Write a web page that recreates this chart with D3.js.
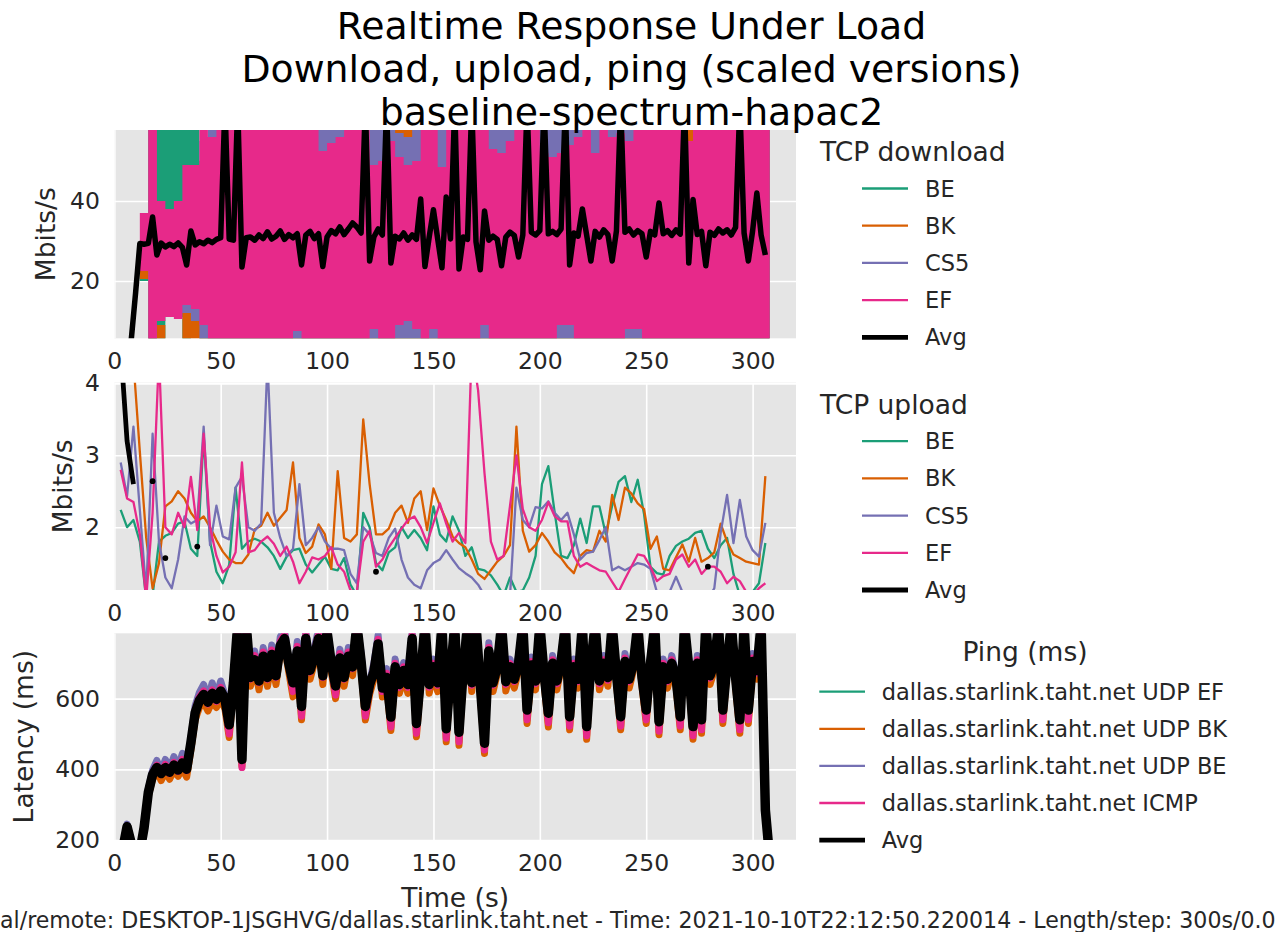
<!DOCTYPE html>
<html>
<head>
<meta charset="utf-8">
<title>Realtime Response Under Load</title>
<script src="https://cdn.jsdelivr.net/npm/d3@7"></script>
<style>
	body { margin: 0; background: #fff; }
	svg { display: block; font-family: 'DejaVu Sans', sans-serif; }
</style>
</head>
<body>
<svg id="chart"></svg>
<script>
/*
	Data
	* Times are implicit: value i sits at i * step seconds
	* null means the series has no point there
*/
const titleLines = ['Realtime Response Under Load', 'Download, upload, ping (scaled versions)', 'baseline-spectrum-hapac2']
const footerText = 'Local/remote: DESKTOP-1JSGHVG/dallas.starlink.taht.net - Time: 2021-10-10T22:12:50.220014 - Length/step: 300s/0.05s'

const xTicks = [0, 50, 100, 150, 200, 250, 300]
const downTicks = [20, 40]
const upTicks = [2, 3, 4]
const pingTicks = [200, 400, 600]

const flowNames = ['BE', 'BK', 'CS5', 'EF']
const pingNames = ['dallas.starlink.taht.net UDP EF', 'dallas.starlink.taht.net UDP BK', 'dallas.starlink.taht.net UDP BE', 'dallas.starlink.taht.net ICMP']

//TCP download flows swing so fast they read as solid bands: kept as low/high envelopes, one per 4 s
const bandStep = 4
const downBELo = [
	0, 0, 0, 20, 0, 3, 12, 11, 0, 8,
	0, 0, 0, 0, 0, 0, 0, 0, 0, 0,
	0, 0, 0, 0, 0, 0, 0, 0, 0, 0,
	0, 0, 0, 0, 0, 0, 0, 0, 0, 0,
	0, 0, 0, 0, 0, 0, 0, 0, 0, 0,
	0, 0, 0, 0, 0, 0, 0, 0, 0, 0,
	0, 0, 0, 0, 0, 0, 0, 0, 0, 0,
	0, 0, 0, 0, 0, 0, 0, 0]
const downBEHi = [
	0, 0, 0, 23, 62, 62, 62, 62, 62, 62,
	50, 50, 62, 62, 62, 62, 62, 62, 62, 62,
	62, 62, 62, 62, 62, 62, 62, 62, 62, 62,
	62, 62, 62, 62, 62, 62, 62, 62, 62, 62,
	62, 62, 62, 62, 62, 62, 62, 62, 62, 62,
	62, 62, 62, 62, 62, 62, 62, 62, 62, 62,
	62, 62, 62, 62, 62, 62, 62, 62, 62, 62,
	62, 62, 62, 62, 62, 62, 62, 0]
const downBKLo = [
	0, 0, 0, 20.5, 0, 3, 13, 12, 0, 0,
	0, 0, 0, 0, 0, 0, 0, 0, 0, 0,
	0, 0, 0, 0, 0, 0, 0, 0, 0, 0,
	0, 0, 0, 0, 0, 0, 0, 0, 0, 0,
	0, 0, 0, 0, 0, 0, 0, 0, 0, 0,
	0, 0, 0, 0, 0, 0, 0, 0, 0, 0,
	0, 0, 0, 0, 0, 0, 0, 0, 0, 0,
	0, 0, 0, 0, 0, 0, 0, 0]
const downBKHi = [
	0, 0, 0, 24, 62, 9, 30, 30, 20, 25,
	50, 50, 62, 62, 62, 62, 62, 62, 62, 62,
	62, 62, 62, 62, 62, 62, 62, 62, 62, 62,
	62, 62, 62, 62, 62, 62, 62, 62, 62, 62,
	62, 62, 62, 62, 62, 62, 62, 62, 62, 62,
	62, 62, 62, 62, 62, 62, 62, 62, 62, 62,
	62, 62, 62, 62, 62, 62, 62, 62, 62, 62,
	62, 62, 62, 62, 62, 62, 62, 0]
const downCS5Lo = [
	0, 0, 0, 23, 0, 12, 14, 12, 12, 10,
	0, 0, 0, 0, 0, 0, 0, 0, 0, 0,
	0, 0, 0, 0, 0, 0, 0, 0, 0, 0,
	0, 0, 0, 0, 0, 0, 0, 0, 0, 0,
	0, 0, 0, 0, 0, 0, 0, 0, 0, 0,
	0, 0, 0, 0, 0, 0, 0, 0, 0, 0,
	0, 0, 0, 0, 0, 0, 0, 0, 0, 0,
	0, 0, 0, 0, 0, 0, 0, 0]
const downCS5Hi = [
	0, 0, 0, 29, 62, 36, 33, 30, 40, 45,
	55, 62, 62, 62, 62, 62, 62, 62, 62, 62,
	62, 62, 62, 62, 62, 62, 62, 62, 62, 62,
	62, 62, 62, 57, 56, 62, 62, 62, 62, 62,
	62, 62, 62, 62, 62, 62, 62, 62, 62, 62,
	62, 62, 62, 62, 62, 62, 62, 62, 62, 62,
	62, 62, 62, 62, 62, 62, 62, 50, 62, 62,
	62, 62, 62, 62, 62, 62, 62, 0]
const downEFLo = [
	0, 0, 0, 22.5, 0, 10, 11, 10.5, 14, 13,
	9, 0, 0, 0, 0, 0, 0, 0, 0, 0,
	0, 7.5, 0, 0, 0, 0, 0, 0, 0, 0,
	8, 0, 0, 9, 10, 8, 0, 8, 0, 0,
	0, 0, 0, 9, 0, 0, 0, 0, 0, 0,
	0, 0, 9, 9, 0, 0, 0, 0, 0, 0,
	8, 8, 0, 0, 0, 0, 0, 0, 0, 0,
	0, 0, 0, 0, 0, 0, 0, 0]
const downEFHi = [
	0, 0, 0, 37, 62, 40, 38, 40, 49, 49,
	62, 56, 62, 62, 62, 62, 62, 62, 62, 62,
	62, 62, 62, 62, 52.5, 54.5, 56, 62, 62, 62,
	49, 50, 55, 51, 49, 50, 62, 62, 48.5, 62,
	62, 62, 62, 62, 53, 52, 55, 62, 62, 62,
	52, 51, 52, 54, 56, 62, 52, 62, 56, 57,
	55, 62, 62, 62, 62, 62, 62, 55, 62, 62,
	62, 62, 62, 62, 62, 62, 62, 0]

//TCP download average, one per 2 s
const downAvgStep = 2
const downAvg = [
	null, null, null, 2, 5.5, 17, 29.4, 29.2, 29.4, 36,
	26.5, 29.5, 28.5, 29.2, 28.6, 29.5, 28.4, 24, 32.5, 29,
	29.8, 29.3, 30.2, 29.6, 30.4, 30.8, 64, 30.5, 30.2, 64,
	23.5, 30.8, 31, 30.2, 31.5, 30.6, 32.3, 30.5, 31.2, 32.5,
	30.4, 31.6, 30.8, 31.8, 24, 31.5, 32.4, 30.6, 31.8, 23.6,
	31, 32.6, 31.8, 33.5, 31.6, 33, 34.5, 33.5, 32, 64,
	25, 31, 33, 31.5, 64, 24.5, 31.2, 30.5, 32, 30.2,
	31.5, 30.4, 40.5, 23.6, 31, 37.8, 30.5, 23.3, 41, 30.5,
	64, 23, 31, 30.4, 64, 29.8, 22.8, 37.5, 30.2, 31.2,
	30.4, 23.8, 31, 32.2, 31.4, 26, 31.5, 64, 32.2, 31.5,
	32.6, 64, 31.8, 32.4, 31.6, 33, 64, 24, 32, 31.2,
	38, 31.5, 25, 32.4, 31, 32.8, 31.6, 25, 32.5, 64,
	32.2, 33, 31.5, 32.6, 31.8, 26, 32.4, 31.5, 39.5, 31.8,
	32.6, 31.4, 32.8, 31.7, 64, 24.5, 40.4, 31.6, 32.4, 23.8,
	32.2, 31.4, 33, 32, 32.8, 31.5, 33.4, 64, 32, 25,
	32.5, 42, 31.5, 26.5]

//TCP upload, one per 3 s
const upStep = 3
const upBE = [
	null, 2.24, 2.0, 2.1, 1.8, 1.0, 1.05, 1.8, 1.88, 1.92,
	2.05, 2.08, 1.7, 1.6, 3.27, 1.8, 1.38, 1.22, 1.48, 2.55,
	1.7, 1.8, 1.84, 1.8, 1.72, 1.6, 1.42, 1.59, 1.68, 1.7,
	1.48, 1.37, 1.48, 1.59, 1.42, 1.40, 1.57, 1.2, 1.05, 2.2,
	2.0, 1.5, 1.4, 1.65, 1.72, 2.0, 1.85, 1.96, 1.85, 1.68,
	2.29, 1.9, 1.8, 2.15, 1.95, 1.6, 1.72, 1.42, 1.40, 1.33,
	1.2, 1.05, 1.3, 1.1, 1.12, 1.3, 1.6, 2.6, 2.85, 2.2,
	1.6, 1.57, 1.75, 2.12, 1.78, 2.29, 2.29, 1.9, 2.3, 2.63,
	2.71, 2.35, 2.66, 2.18, 1.45, 1.36, 1.34, 1.6, 1.74, 1.8,
	1.84, 1.92, 1.95, 1.7, 1.57, 1.75, 1.85, 1.35, 1.05, 1.05,
	1.1, 1.22, 1.78]
const upBK = [
	null, 4.3, 4.4, 4.3, 3.05, 1.85, 1.15, 1.5, 2.29, 2.36,
	2.5, 2.4, 2.2, 2.08, 2.15, 2.0, 1.82, 1.66, 1.55, 1.5,
	1.5, 1.62, 1.97, 2.02, 2.2, 2.02, 2.13, 2.24, 2.9, 1.85,
	1.64, 1.73, 2.04, 1.9, 1.42, 2.78, 1.85, 1.8, 1.9, 3.5,
	2.6, 1.9, 1.9, 1.98, 2.2, 2.3, 2.06, 2.4, 2.5, 1.96,
	2.54, 2.3, 2.1, 1.87, 1.78, 1.72, 1.55, 1.35, 1.28, 1.4,
	1.52, 1.6, 1.75, 3.4, 1.95, 1.66, 1.75, 1.92, 1.8, 1.65,
	1.57, 1.45, 1.36, 1.6, 1.68, 1.66, 1.95, 1.8, 2.45, 2.1,
	2.55, 2.47, 2.33, 2.25, 1.7, 1.87, 1.42, 1.40, 1.58, 1.76,
	1.52, 1.85, 1.52, 1.57, 1.65, 2.05, 1.8, 1.62, 1.57, 1.52,
	1.5, 1.48, 2.71]
const upCS5 = [
	null, 2.9, 2.43, 3.4, 2.24, 1.1, 3.3, 1.8, 1.3, 1.15,
	1.55, 2.15, 2.05, 2.1, 3.4, 1.75, 2.3, 1.87, 1.83, 2.55,
	2.7, 2.0, 1.95, 2.05, 4.3, 2.2, 1.85, 1.6, 1.7, 2.6,
	1.75, 1.85, 2.0, 1.8, 1.7, 1.7, 1.68, 1.35, 1.22, 2.0,
	1.9, 1.64, 1.6, 1.85, 1.98, 1.55, 1.3, 1.2, 1.15, 1.4,
	1.5, 1.55, 1.68, 1.55, 1.43, 1.36, 1.3, 1.2, 1.05, 1.0,
	1.0, 1.0, 1.05, 2.55, 2.1, 2.0, 2.28, 2.26, 2.36, 2.2,
	2.1, 2.2, 1.9, 1.55, 1.64, 1.66, 1.82, 2.0, 1.4, 1.45,
	1.4, 1.45, 1.5, 1.48, 1.42, 1.1, 1.05, 1.1, 1.31, 1.1,
	1.0, 1.0, 1.05, 1.0, 1.15, 1.92, 2.45, 1.78, 2.38, 1.87,
	1.68, 1.59, 2.06]
const upEF = [
	null, 2.8, 2.4, 2.35, 1.9, 1.0, 2.2, 4.4, 2.0, 1.9,
	2.2, 2.0, 2.7, 1.96, 3.3, 2.0, 1.6, 1.37, 1.45, 1.65,
	2.9, 1.65, 1.68, 1.8, 1.87, 1.77, 1.6, 1.73, 1.52, 1.22,
	1.38, 1.58, 1.55, 1.6, 1.72, 1.48, 1.38, 1.12, 1.1, 1.8,
	1.95, 1.45, 1.55, 1.72, 1.85, 1.98, 2.1, 2.15, 2.0, 1.78,
	2.06, 2.33, 2.05, 1.8, 1.92, 1.78, 4.5, 3.9, 2.75, 1.8,
	1.55, 1.6, 2.3, 3.0, 2.25, 2.0, 1.95, 2.1, 2.35, 2.15,
	2.08, 2.08, 1.6, 1.45, 1.5, 1.45, 1.4, 1.38, 1.24, 1.1,
	1.28, 1.45, 1.62, 1.6, 1.45, 1.25, 1.32, 1.35, 1.55, 1.62,
	1.45, 1.55, 1.35, 1.45, 1.45, 1.38, 1.22, 1.31, 1.25, 1.1,
	1.05, 1.15, 1.22]
//the upload average only has a few scattered points
const upAvgTimes = [3, 6, 9, 18, 24, 39, 123, 279]
const upAvgValues = [4.5, 3.2, 2.6, 2.64, 1.57, 1.73, 1.38, 1.45]

//Ping, probes and average all one per 2 s
const pingStep = 2
const pingEF = [
	null, null, 172, 235, 188, 150, 164, 234, 333, 384,
	404, 386, 404, 390, 410, 396, 416, 398, 472, 558,
	593, 610, 588, 613, 596, 620, 598, 524, 643, 810,
	426, 810, 658, 708, 648, 718, 658, 723, 663, 748,
	768, 698, 643, 733, 576, 768, 678, 718, 768, 663,
	788, 698, 634, 713, 658, 718, 688, 810, 703, 576,
	638, 673, 753, 628, 658, 546, 688, 638, 678, 638,
	768, 528, 663, 810, 638, 688, 643, 810, 513, 668,
	810, 503, 678, 810, 643, 810, 638, 472, 733, 643,
	688, 810, 646, 688, 653, 698, 810, 566, 693, 648,
	810, 668, 557, 698, 648, 703, 810, 547, 688, 653,
	810, 519, 698, 810, 648, 698, 658, 810, 668, 547,
	703, 653, 698, 810, 658, 566, 698, 810, 533, 688,
	653, 698, 658, 547, 810, 688, 519, 698, 538, 810,
	663, 698, 810, 566, 698, 810, 658, 538, 810, 566,
	703, 678, 810, 285, 150]
const pingBK = [
	null, null, 170, 228, 182, 150, 160, 228, 325, 372,
	395, 368, 392, 372, 398, 380, 402, 378, 455, 540,
	575, 590, 565, 592, 575, 600, 570, 490, 622, 790,
	410, 790, 635, 690, 625, 700, 635, 705, 640, 730,
	750, 675, 605, 715, 540, 750, 655, 700, 750, 640,
	770, 675, 600, 695, 635, 700, 665, 790, 685, 540,
	612, 655, 735, 605, 640, 510, 670, 615, 660, 615,
	750, 492, 645, 790, 615, 670, 620, 790, 478, 650,
	790, 468, 660, 790, 620, 790, 615, 445, 715, 620,
	670, 790, 622, 670, 630, 680, 790, 530, 675, 625,
	790, 645, 520, 680, 625, 685, 790, 512, 670, 630,
	790, 485, 680, 790, 625, 680, 635, 790, 645, 512,
	685, 630, 680, 790, 635, 530, 680, 790, 498, 670,
	630, 680, 635, 512, 790, 670, 485, 680, 502, 790,
	640, 680, 790, 530, 680, 790, 635, 502, 790, 530,
	685, 655, 790, 280, 150]
const pingBE = [
	null, null, 180, 245, 195, 150, 168, 240, 345, 398,
	425, 395, 428, 400, 436, 405, 445, 408, 488, 580,
	618, 640, 598, 645, 606, 650, 610, 540, 668, 810,
	440, 810, 668, 735, 658, 745, 668, 752, 672, 775,
	795, 708, 652, 762, 590, 795, 688, 745, 795, 672,
	810, 708, 645, 740, 668, 745, 698, 810, 730, 590,
	650, 700, 780, 638, 685, 560, 712, 648, 702, 648,
	790, 542, 688, 810, 648, 712, 652, 810, 528, 692,
	810, 518, 702, 810, 652, 810, 648, 488, 758, 652,
	712, 810, 655, 712, 662, 722, 810, 580, 718, 658,
	810, 680, 570, 722, 658, 728, 810, 560, 712, 662,
	810, 535, 722, 810, 658, 722, 668, 810, 680, 560,
	728, 662, 722, 810, 668, 580, 722, 810, 548, 712,
	662, 722, 668, 560, 810, 712, 535, 722, 552, 810,
	672, 722, 810, 580, 722, 810, 668, 552, 810, 580,
	728, 690, 810, 300, 150]
const pingICMP = [
	null, null, 178, 240, 192, 150, 166, 236, 338, 390,
	412, 385, 414, 388, 420, 394, 428, 396, 470, 568,
	605, 622, 585, 625, 592, 632, 590, 500, 655, 810,
	405, 810, 655, 722, 645, 732, 655, 738, 660, 762,
	782, 695, 620, 748, 550, 782, 675, 732, 782, 660,
	800, 695, 610, 728, 655, 732, 685, 810, 718, 550,
	630, 688, 768, 620, 672, 520, 700, 632, 690, 632,
	780, 502, 675, 810, 632, 700, 638, 810, 488, 680,
	810, 478, 690, 810, 638, 810, 632, 455, 745, 638,
	700, 810, 640, 700, 648, 710, 810, 540, 705, 642,
	810, 662, 532, 710, 642, 715, 810, 522, 700, 648,
	810, 495, 710, 810, 642, 710, 652, 810, 662, 522,
	715, 648, 710, 810, 652, 540, 710, 810, 508, 700,
	648, 710, 652, 522, 810, 700, 495, 710, 512, 810,
	658, 710, 810, 540, 710, 810, 652, 512, 810, 540,
	715, 672, 810, 290, 150]
const pingAvg = [
	null, null, 175, 238, 190, 150, 165, 235, 335, 385,
	405, 388, 405, 392, 412, 398, 418, 400, 475, 560,
	595, 612, 590, 615, 598, 622, 600, 526, 645, 810,
	428, 810, 660, 710, 650, 720, 660, 725, 665, 750,
	770, 700, 645, 735, 578, 770, 680, 720, 770, 665,
	790, 700, 636, 715, 660, 720, 690, 810, 705, 578,
	640, 675, 755, 630, 660, 548, 690, 640, 680, 640,
	770, 530, 665, 810, 640, 690, 645, 810, 515, 670,
	810, 505, 680, 810, 645, 810, 640, 474, 735, 645,
	690, 810, 648, 690, 655, 700, 810, 568, 695, 650,
	810, 670, 559, 700, 650, 705, 810, 549, 690, 655,
	810, 521, 700, 810, 650, 700, 660, 810, 670, 549,
	705, 655, 700, 810, 660, 568, 700, 810, 535, 690,
	655, 700, 660, 549, 810, 690, 521, 700, 540, 810,
	665, 700, 810, 568, 700, 810, 660, 540, 810, 568,
	705, 680, 810, 285, 150]


/*
	Drawing constants
*/
const [width, height] = [1275, 932]
const [plotLeft, plotRight] = [114.3, 796]
const xMax = 320.4
const flowColors = ['#1b9e77', '#d95f02', '#7570b3', '#e7298a']
const bgColor = '#e5e5e5'
const textColor = '#262626'
const thinLine = 2.3
const avgLine = 4.8

//labelX is where the baseline of the rotated y label sits
const panels = {
	down: {top: 130, bottom: 338.3, domain: [5.67, 57.75], ticks: downTicks, label: 'Mbits/s', labelX: 55},
	up: {top: 382.7, bottom: 590, domain: [1.126, 4.01], ticks: upTicks, label: 'Mbits/s', labelX: 71.5},
	ping: {top: 633.3, bottom: 840, domain: [200, 785], ticks: pingTicks, label: 'Latency (ms)', labelX: 32.5}
}

const svg = d3.select('#chart').attr('width', width).attr('height', height)
const defs = svg.append('defs')
const x = d3.scaleLinear().domain([0, xMax]).range([plotLeft, plotRight])

function seriesLine(y, step) {
	return d3.line().defined(d => d !== null).x((d, i) => x(i * step)).y(d => y(d))
}

/*
	Panel setup
	* grey background, white grid, tick labels, y label
	* returns the y scale and a clipped group to draw series into
*/
function setupPanel(key) {
	const p = panels[key]
	const y = d3.scaleLinear().domain(p.domain).range([p.bottom, p.top])
	const plotHeight = p.bottom - p.top
	const plotWidth = plotRight - plotLeft

	defs.append('clipPath').attr('id', 'clip-' + key)
		.append('rect').attr('x', plotLeft).attr('y', p.top).attr('width', plotWidth).attr('height', plotHeight)
	svg.append('rect').attr('x', plotLeft).attr('y', p.top).attr('width', plotWidth).attr('height', plotHeight).attr('fill', bgColor)

	const grid = svg.append('g').attr('clip-path', `url(#clip-${key})`)
	grid.append('g').attr('transform', `translate(0,${p.bottom})`)
		.call(d3.axisBottom(x).tickValues(xTicks).tickSize(-plotHeight).tickFormat(''))
	grid.append('g').attr('transform', `translate(${plotLeft},0)`)
		.call(d3.axisLeft(y).tickValues(p.ticks).tickSize(-plotWidth).tickFormat(''))
	grid.selectAll('.domain').remove()
	grid.selectAll('line').attr('stroke', '#fff').attr('stroke-width', 1.6)

	const xAxis = svg.append('g').attr('transform', `translate(0,${p.bottom})`)
		.call(d3.axisBottom(x).tickValues(xTicks).tickSize(0).tickPadding(14.5).tickFormat(d3.format('d')))
	const yAxis = svg.append('g').attr('transform', `translate(${plotLeft},0)`)
		.call(d3.axisLeft(y).tickValues(p.ticks).tickSize(0).tickPadding(14.3).tickFormat(d3.format('d')))
	for (const axis of [xAxis, yAxis]) {
		axis.select('.domain').remove()
		axis.attr('font-family', null).attr('font-size', 23.5).attr('color', textColor)
	}

	svg.append('text')
		.attr('transform', `translate(${p.labelX},${(p.top + p.bottom) / 2}) rotate(-90)`)
		.attr('text-anchor', 'middle').attr('font-size', 26.5).attr('fill', textColor)
		.text(p.label)

	return {y, plot: svg.append('g').attr('clip-path', `url(#clip-${key})`)}
}

function drawLegend(o) {
	const g = svg.append('g').attr('fill', textColor)
	g.append('text').attr('x', o.titleX).attr('y', o.titleY).attr('text-anchor', o.titleAnchor)
		.attr('font-size', 26.5).text(o.title)
	o.entries.forEach((e, k) => {
		const cy = o.firstY + k * o.rowGap
		g.append('line').attr('x1', o.lineX1).attr('x2', o.lineX2).attr('y1', cy).attr('y2', cy)
			.attr('stroke', e.color).attr('stroke-width', e.width)
		g.append('text').attr('x', o.textX).attr('y', cy).attr('dominant-baseline', 'central')
			.attr('font-size', 22.5).text(e.name)
	})
}

const avgEntry = {name: 'Avg', color: '#000', width: avgLine}
const flowEntries = flowNames.map((name, k) => ({name, color: flowColors[k], width: thinLine})).concat([avgEntry])


/*
	TCP download
*/
const down = setupPanel('down')
const downBands = [[downBELo, downBEHi], [downBKLo, downBKHi], [downCS5Lo, downCS5Hi], [downEFLo, downEFHi]]
const band = d3.area().curve(d3.curveStepAfter)
	.x((d, i) => x(i * bandStep)).y0(d => down.y(d[0])).y1(d => down.y(d[1]))
downBands.forEach(([lo, hi], k) => {
	down.plot.append('path').datum(d3.zip(lo, hi)).attr('d', band).attr('fill', flowColors[k])
})
down.plot.append('path').datum(downAvg).attr('d', seriesLine(down.y, downAvgStep))
	.attr('fill', 'none').attr('stroke', '#000').attr('stroke-width', 5.5).attr('stroke-linejoin', 'round')
drawLegend({title: 'TCP download', titleX: 820, titleY: 161, titleAnchor: 'start',
	lineX1: 862, lineX2: 908, textX: 925, firstY: 188.5, rowGap: 37.2, entries: flowEntries})


/*
	TCP upload
*/
const up = setupPanel('up')
const upSeries = [upBE, upBK, upCS5, upEF]
upSeries.forEach((values, k) => {
	up.plot.append('path').datum(values).attr('d', seriesLine(up.y, upStep))
		.attr('fill', 'none').attr('stroke', flowColors[k]).attr('stroke-width', thinLine).attr('stroke-linejoin', 'round')
})
const upAvg = upBE.map(() => null)
upAvgTimes.forEach((t, k) => upAvg[t / upStep] = upAvgValues[k])
up.plot.append('path').datum(upAvg).attr('d', seriesLine(up.y, upStep))
	.attr('fill', 'none').attr('stroke', '#000').attr('stroke-width', avgLine).attr('stroke-linejoin', 'round')
//lone points have no segment, so give them a dot
const loneAvg = upAvgTimes.filter(t => upAvg[t / upStep - 1] == null && upAvg[t / upStep + 1] == null)
up.plot.selectAll('.avg-dot').data(loneAvg).enter().append('circle')
	.attr('cx', t => x(t)).attr('cy', t => up.y(upAvg[t / upStep])).attr('r', avgLine / 2 + 0.5).attr('fill', '#000')
drawLegend({title: 'TCP upload', titleX: 820, titleY: 413.7, titleAnchor: 'start',
	lineX1: 862, lineX2: 908, textX: 925, firstY: 441.2, rowGap: 37.2, entries: flowEntries})


/*
	Ping
	* the probe lines are drawn wide so they show as a fringe round the average
*/
const ping = setupPanel('ping')
const pingSeries = [pingEF, pingBK, pingBE, pingICMP]
pingSeries.forEach((values, k) => {
	ping.plot.append('path').datum(values).attr('d', seriesLine(ping.y, pingStep))
		.attr('fill', 'none').attr('stroke', flowColors[k]).attr('stroke-width', 7).attr('stroke-linejoin', 'round')
})
ping.plot.append('path').datum(pingAvg).attr('d', seriesLine(ping.y, pingStep))
	.attr('fill', 'none').attr('stroke', '#000').attr('stroke-width', 9.5).attr('stroke-linejoin', 'round')
drawLegend({title: 'Ping (ms)', titleX: 1025, titleY: 661, titleAnchor: 'middle',
	lineX1: 819.3, lineX2: 865, textX: 881.7, firstY: 691.7, rowGap: 37.1,
	entries: pingNames.map((name, k) => ({name, color: flowColors[k], width: thinLine})).concat([avgEntry])})


/*
	Titles and footer
*/
svg.selectAll('.title').data(titleLines).enter().append('text')
	.attr('x', 631.5).attr('y', (d, i) => 38.5 + i * 43).attr('text-anchor', 'middle')
	.attr('font-size', 37.8).attr('fill', '#000').text(d => d)

svg.append('text').attr('x', (plotLeft + plotRight) / 2).attr('y', 906.5).attr('text-anchor', 'middle')
	.attr('font-size', 26.5).attr('fill', textColor).text('Time (s)')

//the footer runs off both sides of the figure: size and shift it so the visible part lines up
const footer = svg.append('text').attr('x', 0).attr('y', 928).attr('font-size', 20).attr('fill', textColor).text(footerText)
const first = footerText.indexOf('al/remote')
const last = footerText.indexOf('300s/0.') + 7
const fontSize = 20 * 1262 / footer.node().getSubStringLength(first, last - first)
footer.attr('font-size', fontSize)
footer.attr('x', 0 - footer.node().getSubStringLength(0, first))
</script>
</body>
</html>
